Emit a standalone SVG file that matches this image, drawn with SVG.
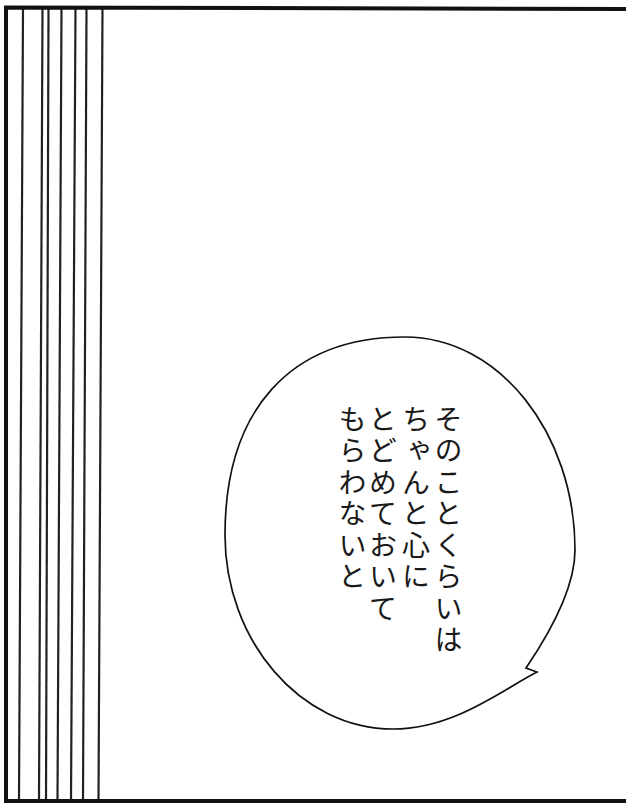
<svg xmlns="http://www.w3.org/2000/svg" width="626" height="803" viewBox="0 0 626 803">
  <style>
    .border { stroke: #111; stroke-width: 4; fill: none; }
    .speed { stroke: #222; stroke-width: 2.2; fill: none; }
    .bubble { stroke: #111; stroke-width: 1.7; fill: #fff; stroke-linejoin: miter; }
    .vtext { font-family: "Noto Sans CJK JP", "Noto Sans CJK SC", sans-serif; font-size: 28px; font-weight: 400; fill: #1a1a1a; writing-mode: vertical-rl; letter-spacing: 3.5px; }
  </style>
  <rect x="0" y="0" width="626" height="803" fill="#fff"/>
  <g id="speed-lines">
    <line class="speed" x1="23" y1="9" x2="19" y2="800"/>
    <line class="speed" x1="42.5" y1="9" x2="39" y2="800"/>
    <line class="speed" x1="48.5" y1="9" x2="46" y2="800"/>
    <line class="speed" x1="61.5" y1="9" x2="57.5" y2="800"/>
    <line class="speed" x1="75.5" y1="9" x2="71" y2="800"/>
    <line class="speed" x1="86.5" y1="9" x2="83" y2="800"/>
    <line class="speed" x1="102.5" y1="9" x2="98.5" y2="800"/>
  </g>
  <g id="frame">
    <path class="border" d="M6 803 L6 7.5 L626 9"/>
    <line class="border" x1="4" y1="801" x2="626" y2="801"/>
  </g>
  <g id="bubble">
    <path class="bubble" d="M405 337 C499 337 575 433 575 550 C575 590 545 640 526 668 L537 672 C505 688 455 729 393 729 C300 729 225 640 225 535 C225 410 290 337 405 337 Z"/>
  </g>
  <g id="speech-text">
    <text class="vtext" x="448.5" y="405">そのことくらいは</text>
    <text class="vtext" x="416" y="405">ちゃんと心に</text>
    <text class="vtext" x="383" y="405">とどめておいて</text>
    <text class="vtext" x="352.5" y="405">もらわないと</text>
  </g>
</svg>
